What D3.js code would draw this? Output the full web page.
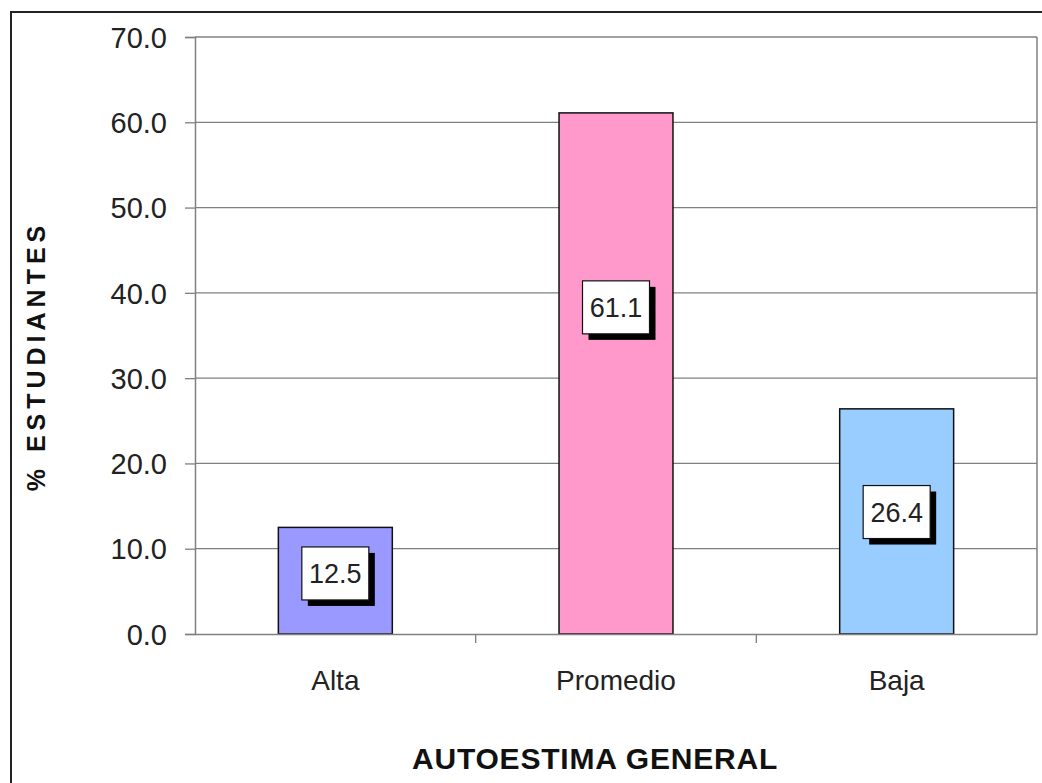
<!DOCTYPE html>
<html><head><meta charset="utf-8">
<script src="https://cdn.jsdelivr.net/npm/d3@7"></script>
<style>html,body{margin:0;padding:0;background:#fff;}svg{display:block;font-family:"Liberation Sans",Arial,sans-serif;}</style>
</head><body>
<svg id="c" width="1042" height="783"></svg>
<script>
const categories = ["Alta", "Promedio", "Baja"];
const values = [12.5, 61.1, 26.4];
const barColors = ["#9999FF", "#FF99CC", "#99CCFF"];
const yTicks = [0, 10, 20, 30, 40, 50, 60, 70];
const yTitle = "% ESTUDIANTES";
const xTitle = "AUTOESTIMA GENERAL";

// layout (label anchor heights in data units, chosen to match the reference)
const labelAnchor = [7.1, 38.3, 14.3];

const svg = d3.select("#c");
const m = {left:195, top:37, right:1037, bottom:634};
const FF = "Liberation Sans, Arial, sans-serif";

svg.append("rect").attr("x",11).attr("y",12).attr("width",1100).attr("height",900)
  .attr("fill","none").attr("stroke","#222").attr("stroke-width",2);

const x = d3.scaleBand().domain(categories).range([m.left, m.right]).paddingInner(0.594).paddingOuter(0.297);
const xb = d3.scaleBand().domain(categories).range([m.left, m.right]);
const y = d3.scaleLinear().domain([0,70]).range([m.bottom, m.top]);

// gridlines
svg.append("g").selectAll("line").data(yTicks.filter(d=>d>0)).join("line")
  .attr("x1",m.left).attr("x2",m.right).attr("y1",d=>y(d)).attr("y2",d=>y(d))
  .attr("stroke","#808080").attr("stroke-width",1.3);
// right border of plot
svg.append("line").attr("x1",m.right).attr("x2",m.right).attr("y1",m.top).attr("y2",m.bottom)
  .attr("stroke","#808080").attr("stroke-width",1.5);

// bars
svg.append("g").selectAll("rect").data(values).join("rect")
  .attr("x",(d,i)=>x(categories[i])).attr("width",x.bandwidth())
  .attr("y",d=>y(d)).attr("height",d=>y(0)-y(d))
  .attr("fill",(d,i)=>barColors[i]).attr("stroke","#111").attr("stroke-width",1.5);

// y axis
const ya = d3.axisLeft(y).tickValues(yTicks).tickFormat(d3.format(".1f")).tickSize(10).tickPadding(18);
const gy = svg.append("g").attr("transform",`translate(${m.left},0)`).call(ya);
gy.select(".domain").attr("stroke","#808080").attr("stroke-width",1.5);
gy.selectAll(".tick line").attr("stroke","#808080").attr("stroke-width",1.3);
gy.selectAll(".tick text").attr("font-size",29).attr("fill","#222").attr("font-family",FF).attr("dy","0.35em");

// x axis
const xa = d3.axisBottom(xb).tickSize(0).tickPadding(0);
const gx = svg.append("g").attr("transform",`translate(0,${m.bottom})`).call(xa);
gx.select(".domain").attr("stroke","#808080").attr("stroke-width",1.5);
gx.selectAll(".tick text").attr("font-size",28).attr("fill","#222").attr("dy",0).attr("y",56)
  .attr("font-family",FF);
// category separator ticks
svg.append("g").selectAll("line").data(categories.slice(1)).join("line")
  .attr("x1",d=>xb(d)).attr("x2",d=>xb(d)).attr("y1",m.bottom).attr("y2",m.bottom+9)
  .attr("stroke","#808080").attr("stroke-width",1.3);

// data labels
const lw = 67, lh = 53, sh = 6;
const lg = svg.append("g").selectAll("g").data(values).join("g")
  .attr("transform",(d,i)=>`translate(${x(categories[i])+x.bandwidth()/2},${y(labelAnchor[i])})`);
lg.append("rect").attr("x",-lw/2+sh).attr("y",-lh/2+sh).attr("width",lw).attr("height",lh).attr("fill","#000");
lg.append("rect").attr("x",-lw/2).attr("y",-lh/2).attr("width",lw).attr("height",lh)
  .attr("fill","#fff").attr("stroke","#111").attr("stroke-width",1.2);
lg.append("text").attr("text-anchor","middle").attr("dy","0.36em").attr("font-size",27).attr("fill","#222")
  .text(d=>d3.format(".1f")(d));

// titles
svg.append("text").attr("transform",`translate(45,356) rotate(-90)`).attr("text-anchor","middle")
  .attr("font-size",25).attr("font-weight","bold").attr("letter-spacing",5).attr("fill","#111").text(yTitle);
svg.append("text").attr("x",595).attr("y",769).attr("text-anchor","middle")
  .attr("font-size",30).attr("font-weight","bold").attr("letter-spacing",0.8).attr("fill","#111").text(xTitle);
</script>
</body></html>
